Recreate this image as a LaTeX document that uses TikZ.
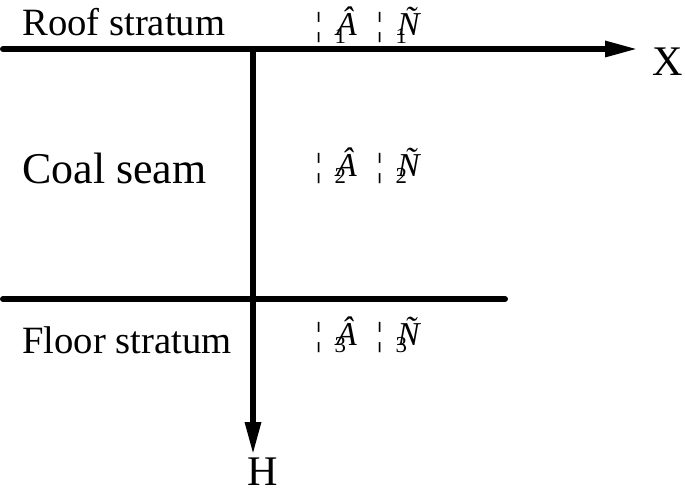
\documentclass[tikz,border=0pt]{standalone}
\usepackage{fontspec}
\setmainfont{Liberation Serif}
\usetikzlibrary{arrows.meta}

\newcommand{\garbled}[2]{¦\hspace{0.38em}\rlap{\raisebox{-0.22em}{\fontsize{13}{13}\selectfont #2}}\hspace{0.05em}{\itshape #1}}

\begin{document}
\begin{tikzpicture}[x=0.02cm, y=-0.02cm,
  axis/.style={line width=3.4pt, line cap=round},
  tip/.style={-{Triangle[length=0.66cm, width=0.3cm]}},
  lab/.style={inner sep=0pt, anchor=base west}]
        \useasboundingbox (0,0) rectangle (685,500);

        \coordinate (L) at (3, 49);
        \coordinate (R) at (638, 49);
        \coordinate (O) at (253, 49);
        \coordinate (D) at (253, 455);
        \coordinate (S) at (3, 299);
        \coordinate (E) at (505, 299);

        \draw [axis, tip] (L)--(R);
        \draw [axis, tip] (O)--(D);
        \draw [axis] (S)--(E);

        \node [lab, font=\fontsize{24}{28}\selectfont] (X) at (652, 75) {X};
        \node [lab, font=\fontsize{24}{28}\selectfont] (H) at (247, 485) {H};

        \node [lab, font=\fontsize{22}{26}\selectfont] (roof) at (22, 36) {Roof stratum};
        \node [lab, font=\fontsize{25}{29}\selectfont] (coal) at (22, 183) {Coal seam};
        \node [lab, font=\fontsize{22}{26}\selectfont] (floor) at (22, 353) {Floor stratum};

        \foreach \y / \d in {36/1, 176/2, 345/3}{
          \node [lab, font=\fontsize{19}{22}\selectfont] (A\d) at (315, \y) {\garbled{Â}{\d}};
          \node [lab, font=\fontsize{19}{22}\selectfont] (N\d) at (376, \y) {\garbled{Ñ}{\d}};
        }
      \end{tikzpicture}
\end{document}
